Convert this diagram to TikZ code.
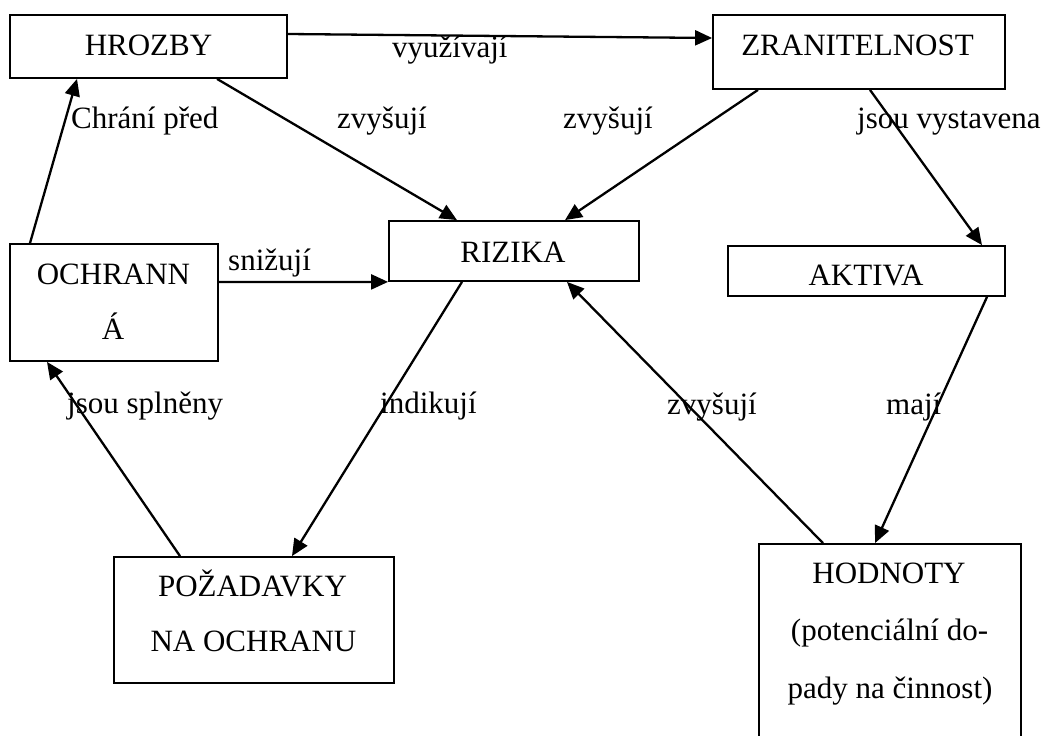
\documentclass[tikz,border=0pt]{standalone}
\usepackage{fontspec}
\setmainfont{Liberation Serif}
\usetikzlibrary{arrows.meta}
\begin{document}
\begin{tikzpicture}[x=1pt,y=-1pt,
  box/.style={draw,line width=1.8pt,inner sep=0pt,minimum width=#1},
  txt/.style={anchor=base,inner sep=0pt,font=\fontsize{31}{37}\selectfont},
  lbl/.style={anchor=base west,inner sep=0pt,font=\fontsize{31}{37}\selectfont},
  conn/.style={line width=2.3pt,-{Triangle[length=17pt,width=15pt]}}]
\useasboundingbox (0,0) rectangle (1055,736);
\clip (0,0) rectangle (1055,736);
% boxes
\node[box=277pt,minimum height=63pt] (hrozby) at (148.5,46.5) {};
\node[box=292pt,minimum height=74pt] (zran) at (859,52) {};
\node[box=250pt,minimum height=60pt] (riz) at (514,251) {};
\node[box=277pt,minimum height=50pt] (akt) at (866.5,271) {};
\node[box=208pt,minimum height=117pt] (ochr) at (114,302.5) {};
\node[box=280pt,minimum height=126pt] (poz) at (254,620) {};
\node[box=262pt,minimum height=216pt] (hod) at (890,652) {};
% box texts
\node[txt] (t1) at (148.5,55) {HROZBY};
\node[txt] (t2) at (857.5,55) {ZRANITELNOST};
\node[txt] (t3) at (513,262) {RIZIKA};
\node[txt] (t4) at (866,285) {AKTIVA};
\node[txt] (t5) at (113.5,284) {OCHRANN};
\node[txt] (t6) at (113,339) {Á};
\node[txt] (t7) at (252.5,596) {POŽADAVKY};
\node[txt] (t8) at (253.5,651) {NA OCHRANU};
\node[txt] (t9) at (889,583) {HODNOTY};
\node[txt] (t10) at (889.5,640) {(potenciální do-};
\node[txt] (t11) at (890,698) {pady na činnost)};
% connectors
\draw[conn] ([yshift=12.5pt]hrozby.east) -- ([yshift=14pt]zran.west);
\draw[conn] ([xshift=68.5pt]hrozby.south) -- ([xshift=-57pt]riz.north);
\draw[conn] ([xshift=-101pt]zran.south) -- ([xshift=51pt]riz.north);
\draw[conn] ([xshift=11pt]zran.south) -- ([xshift=115.5pt]akt.north);
\draw[conn] ([xshift=-84pt]ochr.north) -- ([xshift=-71.5pt]hrozby.south);
\draw[conn] ([yshift=20.5pt]ochr.east) -- (riz.south west);
\draw[conn] ([xshift=-52pt]riz.south) -- ([xshift=38pt]poz.north);
\draw[conn] ([xshift=-74pt]poz.north) -- ([xshift=-67pt]ochr.south);
\draw[conn] ([xshift=-67pt]hod.north) -- ([xshift=53pt]riz.south);
\draw[conn] ([xshift=120.5pt]akt.south) -- ([xshift=-15pt]hod.north);
% labels
\node[lbl] (l1) at (392,57) {využívají};
\node[lbl] (l2) at (71,128) {Chrání před};
\node[lbl] (l3) at (337,128) {zvyšují};
\node[lbl] (l4) at (563,128) {zvyšují};
\node[lbl] (l5) at (857,128) {jsou vystavena};
\node[lbl] (l6) at (228,270) {snižují};
\node[lbl] (l7) at (67,413) {jsou splněny};
\node[lbl] (l8) at (380,413) {indikují};
\node[lbl] (l9) at (667,414) {zvyšují};
\node[lbl] (l10) at (886,414) {mají};
\end{tikzpicture}
\end{document}
